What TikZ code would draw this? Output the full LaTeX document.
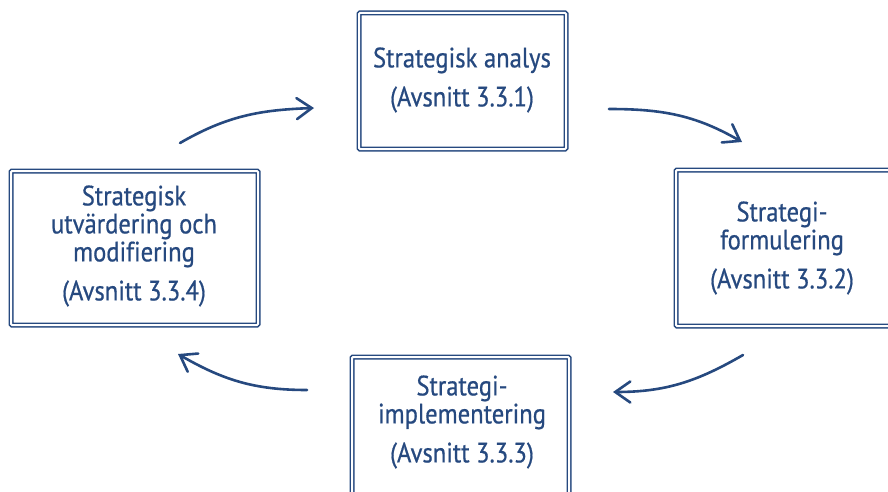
\documentclass[tikz,border=0pt]{standalone}
\usepackage{fontspec}
\setmainfont[FakeStretch=0.88,FakeBold=0.6,Ligatures=NoCommon]{PT Sans}
\usetikzlibrary{arrows.meta}
\definecolor{dblue}{HTML}{26497F}
\tikzset{
  boxd/.style={draw=dblue, double=white, double distance=2pt, line width=1.5pt,
    rounded corners=1pt, minimum width=#1, inner sep=0pt},
  lbl/.style={text=dblue, align=center, font=\fontsize{28}{28}\selectfont, inner sep=0pt},
  flow/.style={draw=dblue, line width=2.6pt, line cap=round,
    -{Straight Barb[length=15pt,width=21pt,line cap=round]}},
}
\begin{document}
\begin{tikzpicture}[x=1pt,y=1pt]
\useasboundingbox (0,0) rectangle (888,491);
\clip (0,0) rectangle (888,491);
% boxes
\node[boxd=207pt, minimum height=136pt] (b1) at (462.5,410) {};
\node[boxd=217pt, minimum height=156pt] (b2) at (784.5,243) {};
\node[boxd=217pt, minimum height=148pt] (b3) at (460.5,60) {};
\node[boxd=247pt, minimum height=154pt] (b4) at (134.5,243) {};
% texts
\node[lbl] (t1) at (462,411) {Strategisk analys\\[11pt](Avsnitt 3.3.1)};
\node[lbl] (t2) at (782,243) {Strategi-\\formulering\\[11pt](Avsnitt 3.3.2)};
\node[lbl] (t3) at (462,69) {Strategi-\\implementering\\[11pt](Avsnitt 3.3.3)};
\node[lbl] (t4) at (134,245) {Strategisk\\utvärdering och\\modifiering\\[11pt](Avsnitt 3.3.4)};
% arrow ends
\coordinate (a1s) at (180,348);
\coordinate (a1e) at (314,383);
\coordinate (a2s) at (609,382);
\coordinate (a2e) at (742,349);
\coordinate (a3s) at (743,136);
\coordinate (a3e) at (613,99);
\coordinate (a4s) at (307,101);
\coordinate (a4e) at (178,137);
\draw[flow] (a1s) to[out=30,in=182] (a1e);
\draw[flow] (a2s) to[out=0,in=150] (a2e);
\draw[flow] (a3s) to[out=210,in=0] (a3e);
\draw[flow] (a4s) to[out=180,in=-30] (a4e);
\end{tikzpicture}
\end{document}
